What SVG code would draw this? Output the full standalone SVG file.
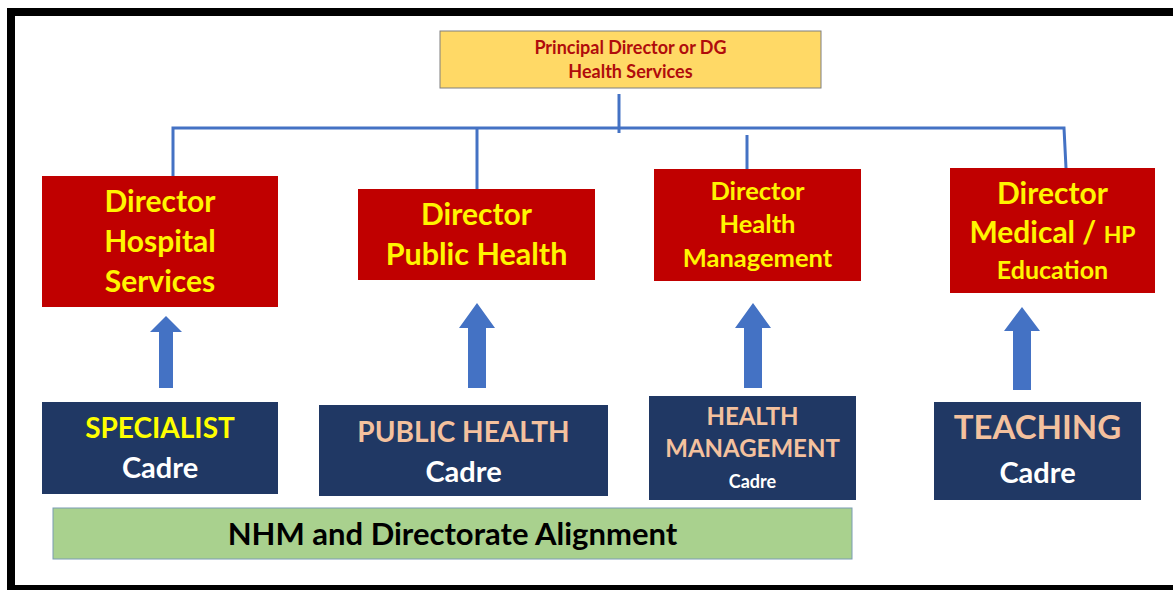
<svg xmlns="http://www.w3.org/2000/svg" width="1173" height="590" viewBox="0 0 1173 590">
  <style>
    text { font-family: Lato, "Open Sans", "Liberation Sans", sans-serif; font-weight: bold; text-anchor: middle; }
    .dir { fill: #C00000; }
    .dtxt { fill: #FFF500; }
    .cadre { fill: #203864; }
    .peach { fill: #F4C19E; }
    .white { fill: #FFFFFF; }
    .yel { fill: #FFFF00; }
    .link { stroke: #4472C4; stroke-width: 3; fill: none; }
    .arrow { fill: #4472C4; }
  </style>

  <rect x="0" y="0" width="1173" height="590" fill="#FFFFFF"/>
  <!-- outer frame -->
  <rect x="11" y="12" width="1170" height="577" fill="none" stroke="#000000" stroke-width="8"/>

  <!-- tree lines and cadre arrows -->
  <g id="connectors">
    <line class="link" x1="619" y1="94" x2="619" y2="133"/>
    <polyline class="link" points="173,181 173,128 1064,128 1066,168"/>
    <line class="link" x1="477" y1="128" x2="477" y2="189"/>
    <line class="link" x1="747" y1="135" x2="747" y2="170"/>
    <polygon class="arrow" points="166,316 182,332 173,332 173,388 159,388 159,332 150,332"/>
    <polygon class="arrow" points="477,303 495,328 486,328 486,388 468,388 468,328 459,328"/>
    <polygon class="arrow" points="753,303 771,328 762,328 762,388 744,388 744,328 735,328"/>
    <polygon class="arrow" points="1022,307 1040,331 1031,331 1031,390 1013,390 1013,331 1004,331"/>
  </g>

  <g id="principal-director">
    <rect x="440" y="31" width="381" height="57" fill="#FFD966" stroke="#7F7F7F" stroke-width="1"/>
    <text x="630.5" y="54" font-size="18" fill="#B00C0C">Principal Director or DG</text>
    <text x="630.5" y="78" font-size="18" fill="#B00C0C">Health Services</text>
  </g>

  <g id="director-hospital">
    <rect class="dir" x="42" y="176" width="236" height="131"/>
    <text class="dtxt" x="160" y="212" font-size="30">Director</text>
    <text class="dtxt" x="160" y="252" font-size="30">Hospital</text>
    <text class="dtxt" x="160" y="292" font-size="30">Services</text>
  </g>

  <g id="director-public-health">
    <rect class="dir" x="358" y="189" width="237" height="91"/>
    <text class="dtxt" x="476.5" y="225" font-size="30">Director</text>
    <text class="dtxt" x="476.5" y="265" font-size="30.5">Public Health</text>
  </g>

  <g id="director-health-management">
    <rect class="dir" x="654" y="169" width="207" height="112"/>
    <text class="dtxt" x="757.5" y="200" font-size="25.5">Director</text>
    <text class="dtxt" x="757.5" y="233" font-size="25.5">Health</text>
    <text class="dtxt" x="757.5" y="267" font-size="25.5">Management</text>
  </g>

  <g id="director-medical">
    <rect class="dir" x="950" y="168" width="205" height="125"/>
    <text class="dtxt" x="1052.5" y="204" font-size="30">Director</text>
    <text class="dtxt" x="1052.5" y="243" font-size="30">Medical / <tspan font-size="23">HP</tspan></text>
    <text class="dtxt" x="1052.5" y="279" font-size="25">Education</text>
  </g>

  <g id="specialist-cadre">
    <rect class="cadre" x="42" y="402" width="236" height="92"/>
    <text class="yel" x="160" y="438" font-size="28">SPECIALIST</text>
    <text class="white" x="160" y="478" font-size="29">Cadre</text>
  </g>

  <g id="public-health-cadre">
    <rect class="cadre" x="319" y="405" width="289" height="91"/>
    <text class="peach" x="463.5" y="442" font-size="28">PUBLIC HEALTH</text>
    <text class="white" x="463.5" y="482" font-size="29">Cadre</text>
  </g>

  <g id="health-management-cadre">
    <rect class="cadre" x="649" y="396" width="207" height="104"/>
    <text class="peach" x="752.5" y="425" font-size="24">HEALTH</text>
    <text class="peach" x="752.5" y="457" font-size="24">MANAGEMENT</text>
    <text class="white" x="752.5" y="488" font-size="18">Cadre</text>
  </g>

  <g id="teaching-cadre">
    <rect class="cadre" x="934" y="402" width="207" height="98"/>
    <text class="peach" x="1037.5" y="439" font-size="33">TEACHING</text>
    <text class="white" x="1037.5" y="483" font-size="29">Cadre</text>
  </g>

  <g id="nhm-alignment">
    <rect x="53" y="508" width="799" height="51" fill="#A9D18E" stroke="#7A9CB4" stroke-width="1"/>
    <text x="452.5" y="545" font-size="31" fill="#000000">NHM and Directorate Alignment</text>
  </g>
</svg>
